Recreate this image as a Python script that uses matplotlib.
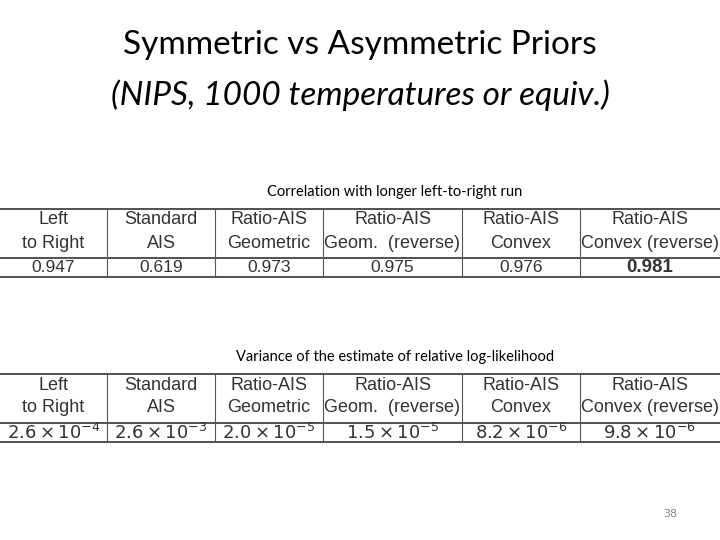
import matplotlib.pyplot as plt

headers = [
    ("Left", "to Right"),
    ("Standard", "AIS"),
    ("Ratio-AIS", "Geometric"),
    ("Ratio-AIS", "Geom.  (reverse)"),
    ("Ratio-AIS", "Convex"),
    ("Ratio-AIS", "Convex (reverse)"),
]
correlation = [0.947, 0.619, 0.973, 0.975, 0.976, 0.981]
var_mantissa = [2.6, 2.6, 2.0, 1.5, 8.2, 9.8]
var_exponent = [-4, -3, -5, -5, -6, -6]

col_edges = [0, 107, 215, 323, 462, 580, 720]

fig = plt.figure(figsize=(7.2, 5.4), dpi=100)
ax = fig.add_axes([0, 0, 1, 1])
ax.set_xlim(0, 720)
ax.set_ylim(540, 0)
ax.axis("off")

ax.text(360, 45, "Symmetric vs Asymmetric Priors", ha="center", va="center",
        fontsize=24, family="Lato")
ax.text(360, 95, "(NIPS, 1000 temperatures or equiv.)", ha="center", va="center",
        fontsize=24, family="Lato", style="italic")


def draw_table(top, title, cells, bold_last=False, size=12.5):
    ax.text(395, top - 17, title, ha="center", va="center", fontsize=10.5,
            family="Lato")
    head = top + 49
    bottom = head + 19
    for y in (top, head, bottom):
        ax.plot([0, 720], [y, y], color="#333333", lw=1.2)
    for x in col_edges[1:-1]:
        ax.plot([x, x], [top, bottom], color="#555555", lw=0.8)
    for i, (h1, h2) in enumerate(headers):
        cx = (col_edges[i] + col_edges[i + 1]) / 2
        for y, h in [(top + 11, h1), (top + 34, h2)]:
            ax.text(cx, y, h, ha="center", va="center", fontsize=13,
                    color="#333333", family="Liberation Sans")
        bold = bold_last and i == len(headers) - 1
        ax.text(cx, head + 10, cells[i], ha="center", va="center",
                fontsize=13.5 if bold else size, color="#333333",
                family="Liberation Sans",
                fontweight="bold" if bold else "normal")


draw_table(209, "Correlation with longer left-to-right run",
           [f"{v:.3f}" for v in correlation], bold_last=True)
draw_table(374, "Variance of the estimate of relative log-likelihood",
           [rf"${m:.1f}\times10^{{{e}}}$" for m, e in zip(var_mantissa, var_exponent)],
           size=13)

ax.text(670, 514, "38", ha="center", va="center", fontsize=8, color="#888888")

fig.savefig("out.png")
